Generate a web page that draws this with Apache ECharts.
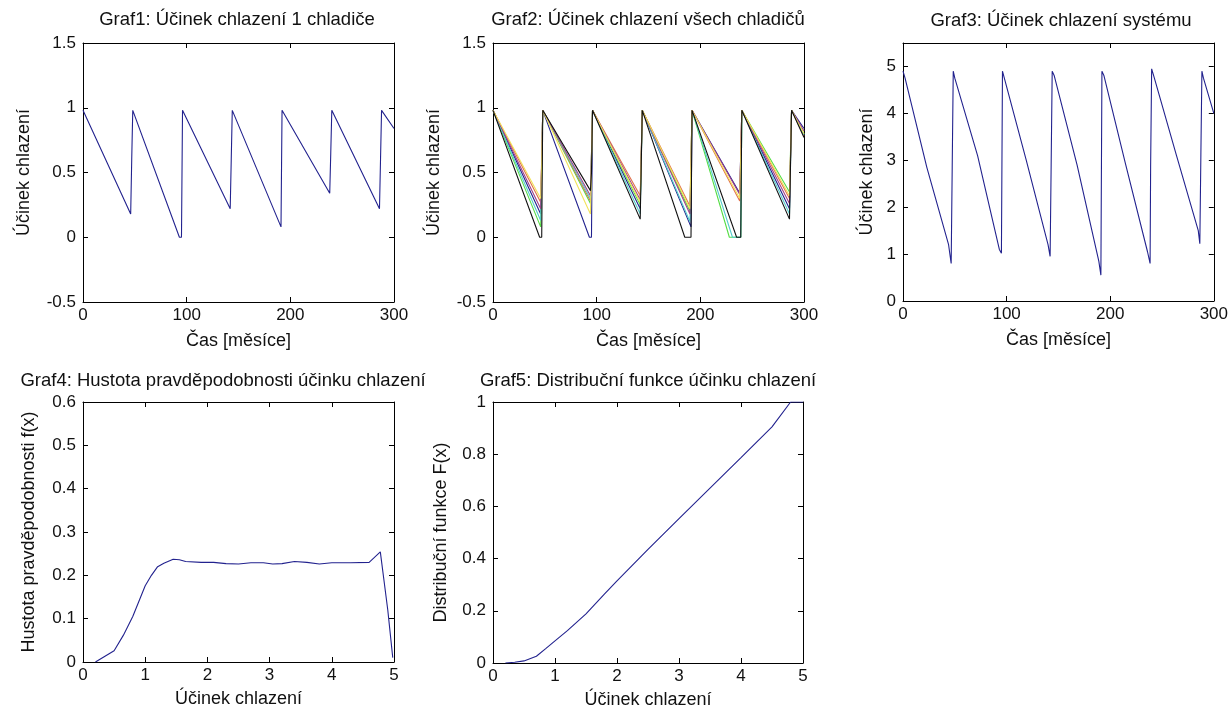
<!DOCTYPE html>
<html>
<head>
<meta charset="utf-8">
<script src="https://cdn.jsdelivr.net/npm/echarts@6/dist/echarts.min.js"></script>
<style>
  html, body { margin: 0; padding: 0; background: #ffffff; }
  #chart { width: 1231px; height: 713px; }
</style>
</head>
<body>
<div id="chart"></div>
<script>
// ---- Data -------------------------------------------------------------
// Graf1: cooling effect of one cooler over time (month, effect)
const cooler1 = [
  [0, 0.98], [46, 0.18], [47, 0.6], [48, 0.98], [93, 0], [95, 0], [96, 0.98],
  [142, 0.22], [143, 0.6], [144, 0.98], [191, 0.08], [192, 0.98],
  [238, 0.34], [239, 0.65], [240, 0.98], [286, 0.22], [287, 0.6], [288, 0.98], [300, 0.84]
];

// Graf2: cooling effect of every cooler
const coolerGreen = [
  [0, 0.98], [46, 0.08], [48, 0.98], [94, 0.26], [96, 0.98], [142, 0.25], [144, 0.98],
  [190, 0.2], [192, 0.98], [228, 0], [239, 0], [240, 0.98], [286, 0.35], [288, 0.98], [300, 0.8]
];
const coolerRed = [
  [0, 0.98], [46, 0.27], [48, 0.98], [94, 0.28], [96, 0.98], [142, 0.32], [144, 0.98],
  [190, 0.24], [192, 0.98], [238, 0.28], [240, 0.98], [286, 0.3], [288, 0.98], [300, 0.78]
];
const coolerCyan = [
  [0, 0.98], [46, 0.13], [48, 0.98], [94, 0.3], [96, 0.98], [142, 0.18], [144, 0.98],
  [190, 0.12], [192, 0.98], [231, 0], [239, 0], [240, 0.98], [286, 0.18], [288, 0.98], [300, 0.79]
];
const coolerMagenta = [
  [0, 0.98], [46, 0.22], [48, 0.98], [94, 0.32], [96, 0.98], [142, 0.29], [144, 0.98],
  [190, 0.18], [192, 0.98], [238, 0.33], [240, 0.98], [286, 0.26], [288, 0.98], [300, 0.82]
];
const coolerYellow = [
  [0, 0.98], [46, 0.3], [47, 0.58], [48, 0.98], [94, 0.18], [95, 0.6], [96, 0.98],
  [142, 0.27], [144, 0.98], [190, 0.22], [192, 0.98], [238, 0.3], [240, 0.98],
  [286, 0.32], [287, 0.62], [288, 0.98], [300, 0.8]
];
const coolerBlack = [
  [0, 0.98], [45, 0], [47, 0], [47.5, 0.5], [48, 0.98], [94, 0.36], [95, 0.5], [96, 0.98],
  [142, 0.14], [144, 0.98], [185, 0], [191, 0], [191.5, 0.5], [192, 0.98],
  [235, 0], [239, 0], [240, 0.98], [286, 0.14], [288, 0.98], [300, 0.77]
];

// Graf3: cooling effect of the whole system
const systemEffect = [
  [0, 4.9], [2, 4.75], [23, 2.85], [44, 1.2], [46.5, 0.8], [47.5, 2.85], [48.5, 4.9],
  [50, 4.75], [72, 3.1], [93, 1.1], [95, 1.02], [96, 4.9],
  [119, 3.0], [140, 1.2], [142, 0.95], [143, 2.9], [144, 4.9],
  [146, 4.8], [168, 2.9], [189, 0.85], [191, 0.55], [192, 4.9],
  [194, 4.8], [215, 2.9], [236, 1.05], [238.5, 0.8], [239, 2.85], [240, 4.95],
  [242, 4.8], [264, 3.1], [285, 1.5], [286.5, 1.22], [287.5, 3.1], [288.5, 4.9],
  [290, 4.75], [300, 4.0]
];

// Graf4: probability density of the cooling effect
const density = [
  [0.2, 0], [0.5, 0.026], [0.65, 0.062], [0.8, 0.105], [1.0, 0.176], [1.1, 0.2],
  [1.2, 0.22], [1.3, 0.228], [1.45, 0.237], [1.55, 0.236], [1.65, 0.232], [1.9, 0.23],
  [2.1, 0.23], [2.3, 0.227], [2.5, 0.226], [2.7, 0.229], [2.9, 0.229], [3.05, 0.226],
  [3.2, 0.227], [3.4, 0.232], [3.6, 0.23], [3.8, 0.226], [4.0, 0.229], [4.3, 0.229],
  [4.6, 0.23], [4.78, 0.254], [4.9, 0.12], [4.98, 0.01]
];

// Graf5: distribution function of the cooling effect
const distribution = [
  [0.2, 0], [0.35, 0.003], [0.5, 0.008], [0.7, 0.026], [0.85, 0.055], [1.0, 0.085],
  [1.2, 0.124], [1.5, 0.188], [1.8, 0.265], [2.0, 0.315], [2.5, 0.435], [3.0, 0.553],
  [3.5, 0.67], [4.0, 0.787], [4.5, 0.905], [4.8, 1.0], [5.0, 1.0]
];

// Tick settings per panel: [min, max, interval]
const timeTicks = [0, 300, 100];
const effectTicks12 = [-0.5, 1.5, 0.5];
const systemTicks = [0, 5.5, 1];
const effectRange = [0, 5, 1];
const densityTicks = [0, 0.6, 0.1];
const distributionTicks = [0, 1, 0.2];

const titles = [
  'Graf1: Účinek chlazení 1 chladiče',
  'Graf2: Účinek chlazení všech chladičů',
  'Graf3: Účinek chlazení systému',
  'Graf4: Hustota pravděpodobnosti účinku chlazení',
  'Graf5: Distribuční funkce účinku chlazení'
];

// ---- Layout & styling -------------------------------------------------
const FONT = '"Liberation Sans", Arial, sans-serif';
const TEXT = '#111111';
const NAVY = '#22228e';

const grids = [
  { left: 83, top: 43, width: 311, height: 259 },
  { left: 493, top: 43, width: 311, height: 259 },
  { left: 903, top: 43, width: 311, height: 258 },
  { left: 83, top: 402, width: 311, height: 260 },
  { left: 493, top: 402, width: 310, height: 261 }
];

const xAxes = [];
const yAxes = [];

function boxAxes(gi, xt, yt, xName, yName, xGap, yGap, yFmt) {
  const line = { show: true, onZero: false, lineStyle: { color: '#000', width: 1 } };
  const tick = { show: true, inside: true, length: 5, lineStyle: { color: '#000', width: 1 } };
  const label = { color: TEXT, fontSize: 17, fontFamily: FONT };
  const nameStyle = { color: TEXT, fontSize: 18, fontFamily: FONT };
  xAxes.push({
    type: 'value', gridIndex: gi, min: xt[0], max: xt[1], interval: xt[2],
    axisLine: line, axisTick: tick, splitLine: { show: false },
    axisLabel: Object.assign({ margin: 5 }, label),
    name: xName, nameLocation: 'middle', nameGap: xGap, nameTextStyle: nameStyle
  });
  xAxes.push({
    type: 'value', gridIndex: gi, position: 'top', min: xt[0], max: xt[1], interval: xt[2],
    axisLine: line, axisTick: tick, splitLine: { show: false }, axisLabel: { show: false }
  });
  yAxes.push({
    type: 'value', gridIndex: gi, min: yt[0], max: yt[1], interval: yt[2],
    axisLine: line, axisTick: tick, splitLine: { show: false },
    axisLabel: Object.assign({ margin: 7, formatter: yFmt }, label),
    name: yName, nameLocation: 'middle', nameGap: yGap, nameTextStyle: nameStyle
  });
  yAxes.push({
    type: 'value', gridIndex: gi, position: 'right', min: yt[0], max: yt[1], interval: yt[2],
    axisLine: line, axisTick: tick, splitLine: { show: false }, axisLabel: { show: false }
  });
}

const integerOnly = v => (Math.abs(v - Math.round(v)) < 1e-9 ? String(Math.round(v)) : '');

boxAxes(0, timeTicks, effectTicks12, 'Čas [měsíce]', 'Účinek chlazení', 30, 50);
boxAxes(1, timeTicks, effectTicks12, 'Čas [měsíce]', 'Účinek chlazení', 30, 50);
boxAxes(2, timeTicks, systemTicks, 'Čas [měsíce]', 'Účinek chlazení', 30, 27, integerOnly);
boxAxes(3, effectRange, densityTicks, 'Účinek chlazení', 'Hustota pravděpodobnosti f(x)', 28, 45);
boxAxes(4, effectRange, distributionTicks, 'Účinek chlazení', 'Distribuční funkce F(x)', 28, 43);

function line(gi, data, color) {
  return {
    type: 'line', xAxisIndex: gi * 2, yAxisIndex: gi * 2, data: data,
    showSymbol: false, symbol: 'none', silent: true,
    lineStyle: { color: color, width: 1.1 }, itemStyle: { color: color }
  };
}

const series = [
  line(0, cooler1, NAVY),
  line(1, cooler1, NAVY),
  line(1, coolerGreen, '#55dd44'),
  line(1, coolerRed, '#e0704a'),
  line(1, coolerCyan, '#55cccc'),
  line(1, coolerMagenta, '#a0408a'),
  line(1, coolerYellow, '#f2e25a'),
  line(1, coolerBlack, '#111111'),
  line(2, systemEffect, NAVY),
  line(3, density, NAVY),
  line(4, distribution, NAVY)
];

// Panel titles, centred above each box
const titleCenters = [[237, 20], [648, 20], [1061, 21], [223, 381], [648, 381]];
const graphic = titles.map((t, i) => ({
  type: 'text',
  x: titleCenters[i][0], y: titleCenters[i][1],
  style: {
    text: t, fill: TEXT, fontSize: 18.5, fontFamily: FONT,
    textAlign: 'center', textVerticalAlign: 'middle'
  }
}));

const chart = echarts.init(document.getElementById('chart'), null, { renderer: 'canvas' });
chart.setOption({
  animation: false,
  backgroundColor: '#ffffff',
  grid: grids,
  xAxis: xAxes,
  yAxis: yAxes,
  series: series,
  graphic: graphic
});
</script>
</body>
</html>
